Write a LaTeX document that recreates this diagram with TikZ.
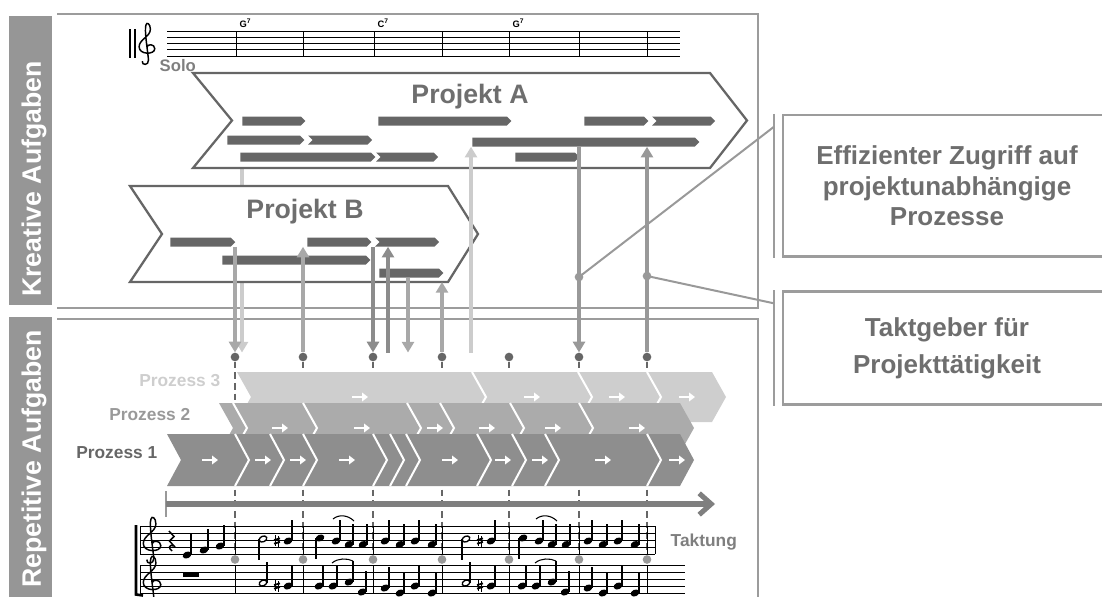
\documentclass[tikz,border=0pt]{standalone}
\usepackage{fontspec}
\setmainfont{Liberation Sans}
\usetikzlibrary{arrows.meta, shapes.symbols, positioning}

\definecolor{sidegray}{HTML}{969696}
\definecolor{framegray}{HTML}{9C9C9C}
\definecolor{taskgray}{HTML}{666666}
\definecolor{titlegray}{HTML}{6E6E6E}
\definecolor{procone}{HTML}{8E8E8E}
\definecolor{proctwo}{HTML}{ABABAB}
\definecolor{procthree}{HTML}{CECECE}
\definecolor{arrowlight}{HTML}{CCCCCC}
\definecolor{arrowmid}{HTML}{A8A8A8}
\definecolor{arrowdark}{HTML}{8C8C8C}
\definecolor{arrowgray}{HTML}{999999}
\definecolor{taktgray}{HTML}{7F7F7F}

% notes: x, y of the note head (pixels)
\newcommand{\noteup}[2]{%
  \fill[rotate around={25:(#1,#2)}] (#1,#2) ellipse (3.4pt and 2.5pt);
  \draw[notestem] (#1+4,#2) -- (#1+4,#2-21);}
\newcommand{\notedn}[2]{%
  \fill[rotate around={25:(#1,#2)}] (#1,#2) ellipse (3.4pt and 2.5pt);
  \draw[notestem] (#1-4,#2) -- (#1-4,#2+21);}
\newcommand{\halfup}[2]{%
  \draw[line width=1pt, fill=white, rotate around={25:(#1,#2)}] (#1,#2) ellipse (3pt and 2.1pt);
  \draw[notestem] (#1+4,#2) -- (#1+4,#2-21);}
\newcommand{\halfdn}[2]{%
  \draw[line width=1pt, fill=white, rotate around={25:(#1,#2)}] (#1,#2) ellipse (3pt and 2.1pt);
  \draw[notestem] (#1-4,#2) -- (#1-4,#2+21);}
\newcommand{\sharpsign}[2]{%
  \draw[line width=0.5pt] (#1-1.3,#2-6) -- (#1-1.3,#2+5) (#1+1.3,#2-5) -- (#1+1.3,#2+6);
  \draw[line width=1.3pt] (#1-3,#2-1) -- (#1+3,#2-2.6) (#1-3,#2+2.6) -- (#1+3,#2+1);}
% treble clef: x, y of the lowest staff line, line spacing
\newcommand{\gclef}[3]{%
  \begin{scope}[shift={(#1,#2)}, x=#3, y=#3]
    \draw[line width=1.1pt] (0.15,1.4) .. controls (0.15,2.0) and (1.4,2.0) .. (1.4,1.2)
      .. controls (1.4,0.2) and (-1.1,0.2) .. (-1.1,1.5)
      .. controls (-1.1,2.7) and (0.7,3.1) .. (0.7,4.3)
      .. controls (0.7,5.2) and (0.1,5.5) .. (0,5.0)
      .. controls (-0.3,4.2) and (0.25,1.0) .. (0.4,-0.6)
      .. controls (0.45,-1.5) and (-0.7,-1.5) .. (-0.6,-0.8);
  \end{scope}}

\begin{document}
\begin{tikzpicture}[x=0.75pt, y=-0.75pt,
  sidetext/.style={text=white, font=\bfseries\fontsize{20}{20}\selectfont, rotate=90},
  frameline/.style={draw=framegray, line width=2.2pt},
  project/.style={draw=taskgray, line width=1.7pt, fill=white, line join=miter},
  projtitle/.style={text=titlegray, font=\bfseries\fontsize{20}{20}\selectfont},
  taskbar/.style={shape=signal, signal to=east, signal pointer angle=90, fill=taskgray, inner sep=0pt, minimum height=6.75pt},
  notched/.style={taskbar, signal from=west},
  varrow/.style={line width=2.8pt, -{Triangle[length=8pt,width=9pt]}},
  beatdot/.style={circle, fill=taskgray, inner sep=0pt, minimum size=6.5pt},
  bardot/.style={circle, fill=arrowgray, inner sep=0pt, minimum size=6.5pt},
  taktline/.style={draw=taskgray, line width=1.4pt, dash pattern=on 5pt off 3pt},
  gapline/.style={draw=white, line width=1.5pt},
  procarrow/.style={white, line width=1.7pt, -{Triangle[length=4.5pt,width=6.5pt]}},
  proclabel/.style={anchor=east, font=\bfseries\fontsize{13}{13}\selectfont},
  staffline/.style={line width=0.7pt},
  notestem/.style={line width=0.8pt},
  slur/.style={line width=0.8pt},
  infobox/.style={draw=framegray, line width=1.8pt, text=titlegray, align=center, minimum width=246pt},
  connector/.style={draw=arrowgray, line width=1.5pt},
  taktarrow/.style={draw=taktgray, line width=3.8pt, -{Straight Barb[length=9pt,width=16pt]}}
]
\clip (0,0) rectangle (1102,596);

% side bars
\fill[sidegray] (9,16) rectangle (52,305);
\node[sidetext] (kreativ) at (34,179) {Kreative Aufgaben};
\fill[sidegray] (9,317) rectangle (52,600);
\node[sidetext] (repetitiv) at (34,459) {Repetitive Aufgaben};

% frames
\draw[frameline] (57,14) -- (758,14) -- (758,308) -- (57,308);
\draw[frameline] (57,319) -- (758,319) -- (758,600);

% solo staff
\draw[line width=2.2pt] (130,29) -- (130,57.5);
\draw[line width=0.8pt] (135,29) -- (135,57.5);
\gclef{146}{56.2}{4.7pt}
\foreach \i in {0,...,4}
  \draw[staffline] (167,31+6.3*\i) -- (680,31+6.3*\i);
\foreach \x in {236,303,374,442,509,579,647}
  \draw[staffline] (\x,31) -- (\x,56.2);
\node[anchor=west, font=\bfseries\fontsize{7}{7}\selectfont] (chord1) at (235,23.5) {G\textsuperscript{7}};
\node[anchor=west, font=\bfseries\fontsize{7}{7}\selectfont] (chord2) at (373,23.5) {C\textsuperscript{7}};
\node[anchor=west, font=\bfseries\fontsize{7}{7}\selectfont] (chord3) at (508,23.5) {G\textsuperscript{7}};
\node[anchor=west, text=taktgray, font=\bfseries\fontsize{12.5}{12.5}\selectfont] (solo) at (155,66) {Solo};

% light arrow behind Projekt B
\coordinate (bTop) at (242,145);
\coordinate (bLow) at (242,352.5);
\draw[varrow, color=arrowlight] (bTop) -- (bLow);

% projects
\draw[project] (193,73) -- (710,73) -- (747,120.5) -- (710,168) -- (193,168) -- (232,120.5) -- cycle;
\node[projtitle] (titleA) at (470,96.5) {Projekt A};
\draw[project] (130,186) -- (448,186) -- (478,234) -- (448,282) -- (130,282) -- (162,234) -- cycle;
\coordinate (pBbase) at (448,282);
\node[projtitle] (titleB) at (305,212) {Projekt B};

% tasks of Projekt A
\node[taskbar, minimum width=47.25pt] (pa1) at (271.5,121) {};
\node[taskbar, minimum width=99.75pt] (pa2) at (442.5,121) {};
\node[taskbar, minimum width=48pt] (pa3) at (614,121) {};
\node[notched, minimum width=47.25pt] (pa4) at (683.5,121) {};
\node[taskbar, minimum width=57.75pt] (pa5) at (263.5,140) {};
\node[notched, minimum width=48pt] (pa6) at (340,140) {};
\node[taskbar, minimum width=170.25pt] (pa7) at (583.5,142) {};
\node[taskbar, minimum width=101.25pt] (pa8) at (305.5,157) {};
\node[notched, minimum width=46.5pt] (pa9) at (407,157) {};
\node[taskbar, minimum width=48pt] (pa10) at (545,157) {};

% tasks of Projekt B
\node[taskbar, minimum width=48.75pt] (pb1) at (200.5,242) {};
\node[taskbar, minimum width=48pt] (pb2) at (337,242) {};
\node[notched, minimum width=48pt] (pb3) at (407,242) {};
\node[taskbar, minimum width=111pt] (pb4) at (294,260) {};
\node[taskbar, minimum width=48pt] (pb5) at (409,273) {};

% beats
\foreach \x [count=\i] in {235,303,373,442,509,579,647} {
  \node[beatdot] (t\i) at (\x,357) {};
  \node[bardot] (s\i) at (\x,559.5) {};
  \draw[taktline] (t\i.south) -- (s\i.north);
}

% processes
\fill[procthree] (237,372) -- (712,372) -- (726,397) -- (712,422) -- (237,422) -- (251,397) -- cycle;
\foreach \b in {472,578,647}
  \draw[gapline] (\b,372) -- (\b+14,397) -- (\b,422);
\foreach \a in {360,532,617,687}
  \draw[procarrow] (\a-8,397) -- (\a+8,397);
\fill[proctwo] (219,403) -- (680,403) -- (694,428) -- (680,453) -- (219,453) -- (233,428) -- cycle;
\foreach \b in {233,303,407,440,510,579}
  \draw[gapline] (\b,403) -- (\b+14,428) -- (\b,453);
\foreach \a in {280,362,435,487,553,637}
  \draw[procarrow] (\a-8,428) -- (\a+8,428);
\fill[procone] (167,434) -- (680,434) -- (694,460) -- (680,486) -- (167,486) -- (181,460) -- cycle;
\foreach \b in {235,270,303,373,390,406,477,512,545,647}
  \draw[gapline] (\b,434) -- (\b+14,460) -- (\b,486);
\foreach \a in {210,263,298,347,450,503,540,603,677}
  \draw[procarrow] (\a-8,460) -- (\a+8,460);
\node[proclabel, text=procthree] (lbl3) at (225,381) {Prozess 3};
\node[proclabel, text=arrowgray] (lbl2) at (195,415) {Prozess 2};
\node[proclabel, text=taskgray] (lbl1) at (162,452.5) {Prozess 1};

% accesses between projects and processes
\coordinate (lowE) at (388,352.5);
\coordinate (lowF) at (408,352.5);
\coordinate (lowH) at (471,352.5);
\draw[varrow, color=arrowmid] (t1 |- pb1.south) -- (t1);
\draw[varrow, color=arrowmid] (t2) -- (t2 |- pb2.south);
\draw[varrow, color=arrowdark] (t3 |- pb2.south) -- (t3);
\draw[varrow, color=arrowdark] (lowE) -- (lowE |- pb3.south);
\draw[varrow, color=arrowmid] (lowF |- pb5.south) -- (lowF);
\draw[varrow, color=arrowmid] (t4) -- (t4 |- pBbase);
\draw[varrow, color=arrowlight] (lowH) -- (lowH |- pa7.south);
\draw[varrow, color=arrowgray] (t6 |- pa7.south) -- (t6);
\draw[varrow, color=arrowgray] (t7) -- (t7 |- pa7.south);
\node[bardot] (k1) at (579,277) {};
\node[bardot] (k2) at (647,276) {};

% Taktung
\coordinate (takt0) at (166,504);
\coordinate (takt1) at (715,504);
\draw[draw=arrowgray, line width=1.2pt] (166,491) -- (166,517);
\draw[taktarrow] (takt0) -- (takt1);
\node[anchor=west, text=taktgray, font=\bfseries\fontsize{13}{13}\selectfont] (taktung) at (666,542) {Taktung};

% score
\draw[line width=2pt] (136,525) -- (136,594.5) -- (143,595.5);
\foreach \i in {0,...,4} {
  \draw[staffline] (140,526+7*\i) -- (655,526+7*\i);
  \draw[staffline] (140,565+7*\i) -- (685,565+7*\i);
}
\foreach \x in {140,235,303,373,442,509,579,647} {
  \draw[staffline] (\x,526) -- (\x,554);
  \draw[staffline] (\x,565) -- (\x,593);
}
\draw[staffline] (655,526) -- (655,554);
\gclef{151}{554}{5.25pt}
\gclef{151}{593}{5.25pt}
\draw[line width=1.1pt] (169,531) -- (174,536.5) -- (169.5,541) -- (174,546)
  .. controls (169,544) and (168,548) .. (172,551);
\fill (183,572) rectangle (199,576.5);
\noteup{187}{555} \noteup{204}{550} \noteup{220}{546}
\foreach \o in {0,203} {
  \halfdn{263+\o}{539} \sharpsign{277+\o}{541} \noteup{288+\o}{541}
  \notedn{320+\o}{538} \noteup{336+\o}{541} \noteup{349+\o}{544.5} \noteup{363+\o}{544.5}
  \draw[slur] (333+\o,519) .. controls (339+\o,514) and (348+\o,515) .. (354+\o,521);
  \noteup{385+\o}{541} \noteup{400+\o}{544.5} \noteup{415+\o}{541} \noteup{432+\o}{544.5}
  \halfup{263+\o}{583} \sharpsign{277+\o}{586} \noteup{288+\o}{586}
  \noteup{319+\o}{586} \noteup{333+\o}{586} \noteup{349+\o}{582} \noteup{362+\o}{592}
  \draw[slur] (332+\o,563) .. controls (338+\o,558) and (347+\o,558) .. (353+\o,561);
  \noteup{385+\o}{588} \noteup{400+\o}{593} \noteup{415+\o}{586} \noteup{432+\o}{593}
}

% explanations
\node[infobox, minimum height=106pt, font=\bfseries\fontsize{19.5}{23}\selectfont] (zugriff) at (947,185.75)
  {Effizienter Zugriff auf\\projektunabhängige\\Prozesse};
\node[infobox, minimum height=84.75pt, font=\bfseries\fontsize{19.5}{27.5}\selectfont] (taktgeber) at (947,348)
  {Taktgeber für\\Projekttätigkeit};
\draw[frameline, line width=1.6pt] ([xshift=-6pt]zugriff.north west) -- ([xshift=-6pt]zugriff.south west);
\draw[frameline, line width=1.6pt] ([xshift=-6pt]taktgeber.north west) -- ([xshift=-6pt]taktgeber.south west);
\coordinate (zA) at ([xshift=-6pt, yshift=-9.75pt]zugriff.north west);
\coordinate (tA) at ([xshift=-6pt, yshift=-9.75pt]taktgeber.north west);
\draw[connector] (zA) -- (k1.center);
\draw[connector] (tA) -- (k2.center);
\end{tikzpicture}
\end{document}
